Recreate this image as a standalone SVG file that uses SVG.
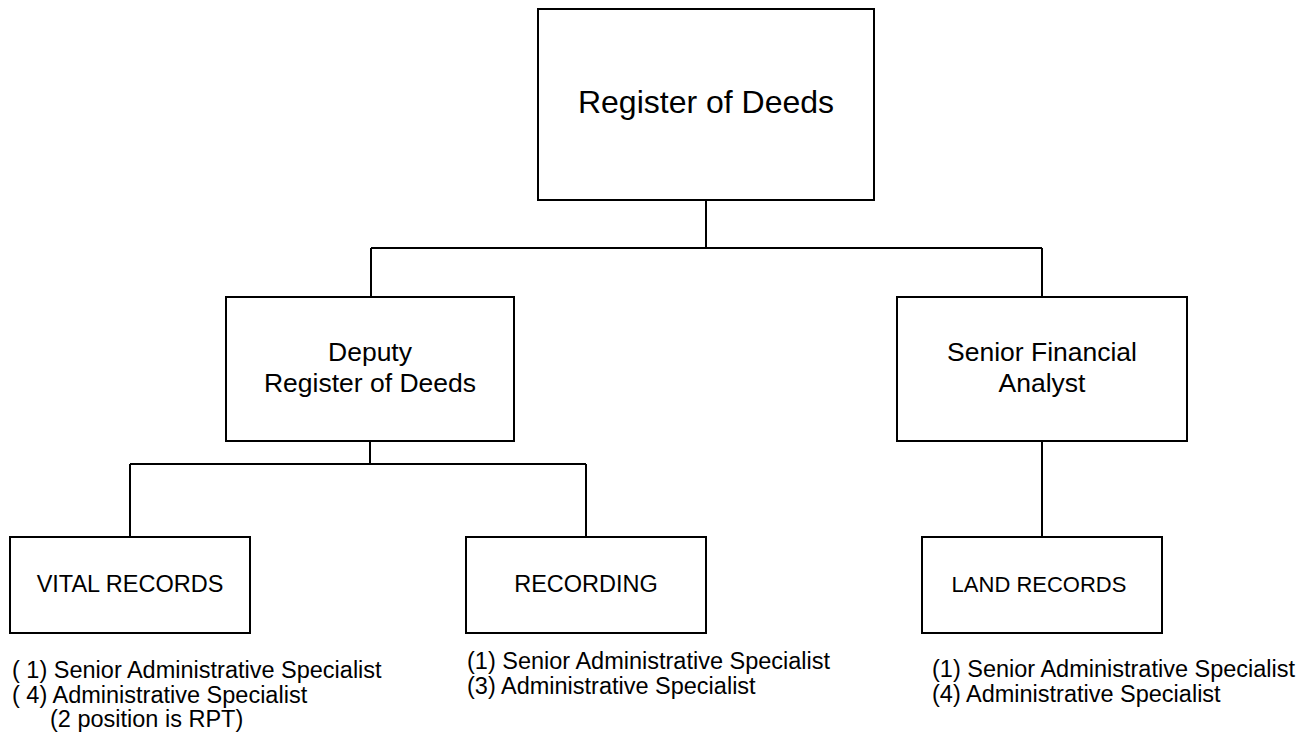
<svg xmlns="http://www.w3.org/2000/svg" width="1313" height="742" viewBox="0 0 1313 742">
<style>
.box{fill:#fff;stroke:#000;stroke-width:2}
.ln{fill:none;stroke:#000;stroke-width:2}
text{font-family:"Liberation Sans",Arial,sans-serif;fill:#000}
.c{text-anchor:middle}
</style>
<rect width="1313" height="742" fill="#fff"/>
<g id="connectors">
<path class="ln" d="M706 200V248M371 248H1042M371 248V297M1042 248V297"/>
<path class="ln" d="M370 441V464M130 464H586M130 464V537M586 464V537"/>
<path class="ln" d="M1042 441V537"/>
</g>
<g id="register">
<rect class="box" x="538" y="9" width="336" height="191"/>
<text class="c" x="706" y="113" font-size="32">Register of Deeds</text>
</g>
<g id="deputy">
<rect class="box" x="226" y="297" width="288" height="144"/>
<text class="c" x="370" y="361" font-size="26.5">Deputy</text>
<text class="c" x="370" y="392" font-size="26.5">Register of Deeds</text>
</g>
<g id="analyst">
<rect class="box" x="897" y="297" width="290" height="144"/>
<text class="c" x="1042" y="361" font-size="26.5">Senior Financial</text>
<text class="c" x="1042" y="392" font-size="26.5">Analyst</text>
</g>
<g id="vital">
<rect class="box" x="10" y="537" width="240" height="96"/>
<text class="c" x="130" y="592" font-size="23.5">VITAL RECORDS</text>
</g>
<g id="recording">
<rect class="box" x="466" y="537" width="240" height="96"/>
<text class="c" x="586" y="592" font-size="23.5">RECORDING</text>
</g>
<g id="land">
<rect class="box" x="922" y="537" width="240" height="96"/>
<text class="c" x="1039" y="592" font-size="22">LAND RECORDS</text>
</g>
<g id="vital-staff" font-size="23.5">
<text x="12" y="678">( 1) Senior Administrative Specialist</text>
<text x="12" y="703">( 4) Administrative Specialist</text>
<text x="50" y="727">(2 position is RPT)</text>
</g>
<g id="recording-staff" font-size="23.5">
<text x="467" y="669">(1) Senior Administrative Specialist</text>
<text x="467" y="694">(3) Administrative Specialist</text>
</g>
<g id="land-staff" font-size="23.5">
<text x="932" y="677">(1) Senior Administrative Specialist</text>
<text x="932" y="702">(4) Administrative Specialist</text>
</g>
</svg>
